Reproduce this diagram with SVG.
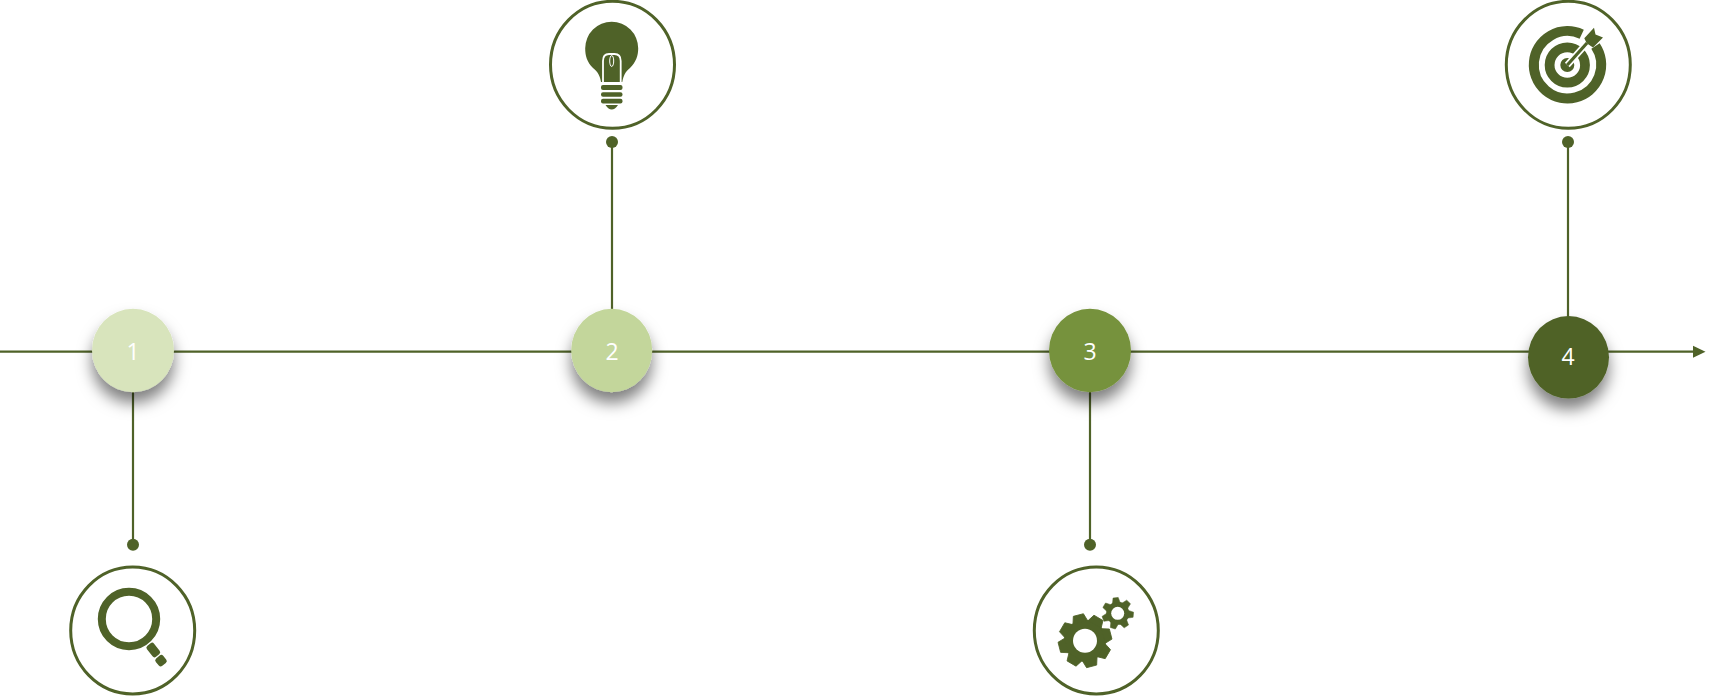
<svg xmlns="http://www.w3.org/2000/svg" width="1719" height="696" viewBox="0 0 1719 696">
<defs>
<filter id="sh" x="-50%" y="-50%" width="200%" height="220%"><feDropShadow dx="0" dy="11" stdDeviation="7.500" flood-color="#000" flood-opacity="0.5"/></filter>
<marker id="arrow" markerUnits="userSpaceOnUse" markerWidth="13" markerHeight="13" refX="0" refY="6.5" orient="auto"><path d="M0 0.5L12.5 6.5L0 12.5Z" fill="#4F6228"/></marker>
<path id="tb" d="M-7.500 -19L-5.200 -26.500H5.200L7.500 -19Z" fill="#4F6228" stroke="#4F6228" stroke-width="0.8" stroke-linejoin="round"/>
<path id="ts" d="M-3.800 -10.500L-2.600 -15.700H2.600L3.800 -10.500Z" fill="#4F6228" stroke="#4F6228" stroke-width="0.5" stroke-linejoin="round"/>
<style>
.ln{stroke:#4F6228;stroke-width:2.200;fill:none}
.dot,.g{fill:#4F6228}
.ring{fill:#fff;stroke:#4F6228;stroke-width:3}
.num{font-family:"Open Sans",sans-serif;font-size:23px;fill:#fff;text-anchor:middle}
.badge{filter:url(#sh)}
</style>
</defs>
<rect width="1719" height="696" fill="#fff"/>
<g id="connectors">
<path class="ln" d="M0 351.700H1693" marker-end="url(#arrow)"/>
<path class="ln" d="M133 392V545"/>
<path class="ln" d="M612 142V310"/>
<path class="ln" d="M1090 392V545"/>
<path class="ln" d="M1568 142V317"/>
<circle class="dot" cx="133" cy="544.700" r="6"/>
<circle class="dot" cx="612" cy="142" r="6"/>
<circle class="dot" cx="1090" cy="544.700" r="6"/>
<circle class="dot" cx="1568" cy="142" r="6"/>
</g>
<g id="node-1">
<ellipse class="badge" cx="133" cy="350.500" rx="41" ry="41.700" fill="#D8E4BC"/>
<text class="num" x="133" y="359.500">1</text>
</g>
<g id="node-2">
<ellipse class="badge" cx="611.700" cy="350.500" rx="40.500" ry="41.700" fill="#C3D69B"/>
<text class="num" x="612" y="359.500">2</text>
</g>
<g id="node-3">
<ellipse class="badge" cx="1090" cy="350.500" rx="41" ry="41.700" fill="#76923C"/>
<text class="num" x="1090" y="359.500">3</text>
</g>
<g id="node-4">
<ellipse class="badge" cx="1568.500" cy="357.300" rx="40.500" ry="41.300" fill="#4F6228"/>
<text class="num" x="1568" y="365">4</text>
</g>
<g id="icon-search">
<ellipse class="ring" cx="132.700" cy="630.500" rx="62" ry="63.500"/>
<circle cx="129" cy="619" r="27.200" fill="none" stroke="#4F6228" stroke-width="8"/>
<rect class="g" x="-7" y="-4.500" width="14" height="9" rx="2.500" transform="translate(153.300 650) rotate(52)"/>
<rect class="g" x="-4.800" y="-4.800" width="9.600" height="9.600" rx="2.500" transform="translate(161 660.700) rotate(50)"/>
</g>
<g id="icon-bulb">
<ellipse class="ring" cx="612.500" cy="64.800" rx="62" ry="63.500"/>
<path class="g" d="M601 82C600 76 598 72 593 68C587 62 585.200 56 585.200 48.300A26.500 26.500 0 0 1 638.200 48.300C638.200 56 636 62 630 68C625 72 623.500 76 622.300 82Z"/>
<path d="M603 82V61Q603 54 609 54H614.500Q620.700 54 620.700 61V82" fill="none" stroke="#fff" stroke-width="1.800"/>
<ellipse cx="611.700" cy="61" rx="2" ry="5.500" fill="none" stroke="#fff" stroke-width="1"/>
<rect class="g" x="601" y="85" width="21.500" height="5" rx="2"/>
<rect class="g" x="601" y="92.300" width="21.500" height="4.500" rx="2"/>
<rect class="g" x="601" y="98.700" width="21.500" height="4.700" rx="2"/>
<path class="g" d="M605.500 105H618Q615 109.500 611.700 109.500Q608.500 109.500 605.500 105Z"/>
</g>
<g id="icon-gears">
<ellipse class="ring" cx="1096.300" cy="630.500" rx="62" ry="63.500"/>
<g transform="translate(1085 640.700)">
<circle class="g" r="21"/>
<use href="#tb" transform="rotate(-14.500)"/>
<use href="#tb" transform="rotate(30.500)"/>
<use href="#tb" transform="rotate(75.500)"/>
<use href="#tb" transform="rotate(120.500)"/>
<use href="#tb" transform="rotate(165.500)"/>
<use href="#tb" transform="rotate(210.500)"/>
<use href="#tb" transform="rotate(255.500)"/>
<use href="#tb" transform="rotate(300.500)"/>
<circle r="12" fill="#fff"/>
</g>
<g transform="translate(1117.700 613.300)">
<circle class="g" r="11.500"/>
<use href="#ts" transform="rotate(-7.600)"/>
<use href="#ts" transform="rotate(43.800)"/>
<use href="#ts" transform="rotate(95.200)"/>
<use href="#ts" transform="rotate(146.600)"/>
<use href="#ts" transform="rotate(198)"/>
<use href="#ts" transform="rotate(249.400)"/>
<use href="#ts" transform="rotate(300.800)"/>
<circle r="6.500" fill="#fff"/>
</g>
</g>
<g id="icon-target">
<ellipse class="ring" cx="1568.300" cy="64.800" rx="62" ry="63.500"/>
<path d="M1595.500 46A33.700 33.700 0 1 1 1581.700 34.200" fill="none" stroke="#4F6228" stroke-width="10"/>
<circle cx="1567.300" cy="65" r="17.700" fill="none" stroke="#4F6228" stroke-width="9.800"/>
<circle class="g" cx="1567.300" cy="65" r="7"/>
<path d="M1567.300 65L1587 43" stroke="#fff" stroke-width="6.500" fill="none"/>
<path d="M1567.300 65L1587 43" stroke="#4F6228" stroke-width="3.200" fill="none"/>
<path class="g" d="M1584.300 38.300L1594 27.700L1595.500 34.500L1603 37.500L1593 47.500L1586.700 43.300Z"/>
</g>
</svg>
